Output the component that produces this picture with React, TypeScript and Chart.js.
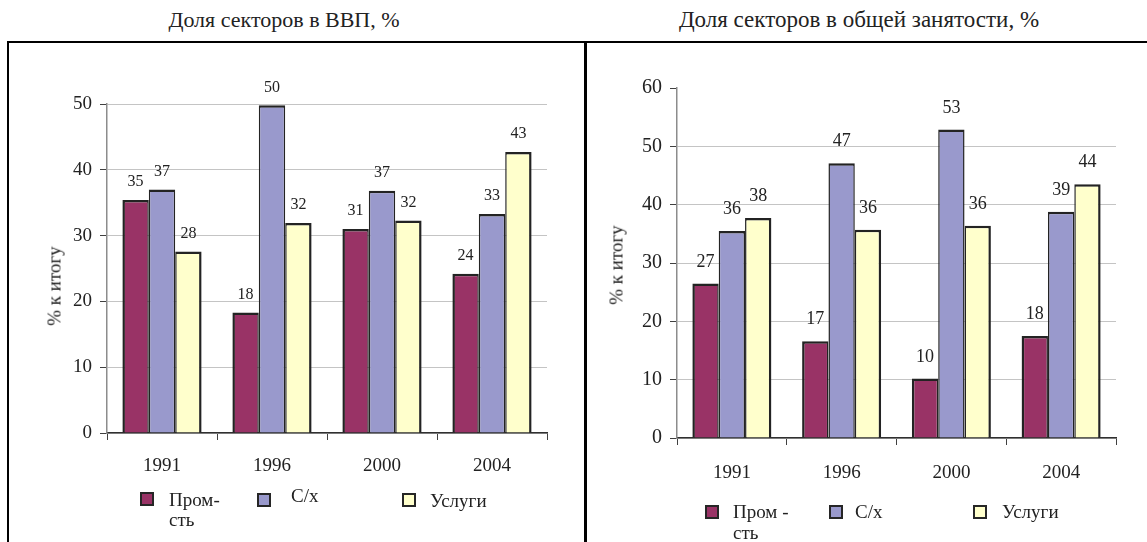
import React, { useEffect, useRef } from 'react';
import { Chart, registerables } from 'chart.js';

Chart.register(...registerables);

const FONT = '"Liberation Serif", "Times New Roman", serif';

// ---- data ----
const years = ['1991', '1996', '2000', '2004'];
const seriesNames = ['Пром-сть', 'С/х', 'Услуги'];
const seriesColors = ['#993366', '#9999CC', '#FFFFCC'];

const gdpIndustry = [35.4, 18.3, 31.0, 24.2];
const gdpAgriculture = [37.0, 49.8, 36.8, 33.3];
const gdpServices = [27.6, 31.9, 32.3, 42.7];

const empIndustry = [26.5, 16.6, 10.2, 17.5];
const empAgriculture = [35.5, 47.1, 52.9, 38.8];
const empServices = [37.7, 35.7, 36.4, 43.5];

const gdpTicks = [0, 10, 20, 30, 40, 50];
const empTicks = [0, 10, 20, 30, 40, 50, 60];

const gdpLegend = ['Пром-\nсть', 'С/х', 'Услуги'];
const empLegend = ['Пром -\nсть', 'С/х', 'Услуги'];

const gdpTitle = 'Доля секторов в ВВП, %';
const empTitle = 'Доля секторов в общей занятости, %';
const yTitle = '% к итогу';

const valueLabelsPlugin = {
  id: 'valueLabels',
  afterDatasetsDraw(chart: any, _args: any, opts: any) {
    const { ctx } = chart;
    ctx.save();
    ctx.font = `${opts.size}px ${FONT}`;
    ctx.fillStyle = '#222';
    ctx.textAlign = 'center';
    ctx.textBaseline = 'middle';
    chart.data.datasets.forEach((ds: any, i: number) => {
      const meta = chart.getDatasetMeta(i);
      meta.data.forEach((bar: any, j: number) => {
        const v = ds.data[j];
        ctx.fillText(String(Math.round(v)), bar.x, bar.y - opts.offset);
      });
    });
    ctx.restore();
  },
};

type PanelProps = {
  left: number;
  top: number;
  width: number;
  height: number;
  series: number[][];
  ticks: number[];
  yWidth: number;
  padRight: number;
  padTop: number;
  padBottom: number;
  xPad: number;
  yFont: number;
  labelFont: number;
  labelOffset: number;
  topGrid: boolean;
};

function BarPanel(p: PanelProps) {
  const ref = useRef<HTMLCanvasElement>(null);
  useEffect(() => {
    const yMax = p.ticks[p.ticks.length - 1];
    const n = p.series.length;
    const chart = new Chart(ref.current as HTMLCanvasElement, {
      type: 'bar',
      data: {
        labels: years,
        datasets: p.series.map((v, i) => ({
          label: seriesNames[i],
          data: v,
          backgroundColor: seriesColors[i],
          borderColor: '#232323',
          borderWidth: {
            top: 2.5,
            left: i === 0 ? 2.5 : 1.5,
            right: i === n - 1 ? 2.5 : 1.5,
            bottom: 0,
          },
          borderSkipped: 'bottom',
          categoryPercentage: 0.72,
          barPercentage: 1,
        })),
      },
      options: {
        responsive: false,
        animation: false,
        devicePixelRatio: 1,
        layout: { padding: { left: 0, right: p.padRight, top: p.padTop, bottom: p.padBottom } },
        plugins: {
          legend: { display: false },
          tooltip: { enabled: false },
          valueLabels: { size: p.labelFont, offset: p.labelOffset },
        } as any,
        scales: {
          x: {
            grid: {
              display: true,
              drawOnChartArea: false,
              drawTicks: true,
              tickLength: 7,
              tickColor: '#404040',
              offset: true,
            },
            border: { display: true, color: '#303030', width: 1.5 },
            ticks: {
              font: { family: FONT, size: 19 },
              color: '#222',
              padding: p.xPad,
              maxRotation: 0,
              autoSkip: false,
            },
            afterFit: (s: any) => {
              s.height = 60;
            },
          },
          y: {
            min: 0,
            max: yMax,
            ticks: {
              stepSize: 10,
              font: { family: FONT, size: p.yFont },
              color: '#222',
              padding: 8,
            },
            grid: {
              color: (ctx: any) =>
                ctx.tick && ctx.tick.value === yMax && !p.topGrid ? 'rgba(0,0,0,0)' : '#c4c4c4',
              tickColor: '#404040',
              tickLength: 7,
              lineWidth: 1,
            },
            border: { color: '#8c8c8c', width: 1.5 },
            afterFit: (s: any) => {
              s.width = p.yWidth;
            },
          },
        },
      } as any,
      plugins: [valueLabelsPlugin],
    });
    return () => chart.destroy();
  }, []);
  return (
    <canvas
      ref={ref}
      width={p.width}
      height={p.height}
      style={{ position: 'absolute', left: p.left, top: p.top, width: p.width, height: p.height }}
    />
  );
}

type LegendProps = {
  labels: string[];
  squares: [number, number][];
  texts: [number, number][];
  fontSize: number;
  lineHeight: number;
};

function Legend({ labels, squares, texts, fontSize, lineHeight }: LegendProps) {
  return (
    <>
      {labels.map((lab, i) => (
        <React.Fragment key={i}>
          <div
            style={{
              position: 'absolute',
              left: squares[i][0],
              top: squares[i][1],
              width: 14,
              height: 14,
              boxSizing: 'border-box',
              border: '2px solid #262626',
              background: seriesColors[i],
            }}
          />
          <div
            style={{
              position: 'absolute',
              left: texts[i][0],
              top: texts[i][1],
              fontFamily: FONT,
              fontSize,
              lineHeight: `${lineHeight}px`,
              color: '#222',
              whiteSpace: 'pre',
            }}
          >
            {lab}
          </div>
        </React.Fragment>
      ))}
    </>
  );
}

function YTitle({ cx, cy, size }: { cx: number; cy: number; size: number }) {
  return (
    <div
      style={{
        position: 'absolute',
        left: cx,
        top: cy,
        transform: 'translate(-50%, -50%) rotate(-90deg)',
        fontFamily: FONT,
        fontSize: size,
        lineHeight: 1,
        color: '#222',
        whiteSpace: 'nowrap',
      }}
    >
      {yTitle}
    </div>
  );
}

function Title({ cx, top, text, size }: { cx: number; top: number; text: string; size: number }) {
  return (
    <div
      style={{
        position: 'absolute',
        left: cx - 300,
        top,
        width: 600,
        textAlign: 'center',
        fontFamily: FONT,
        fontSize: size,
        lineHeight: `${size}px`,
        color: '#222',
        whiteSpace: 'nowrap',
      }}
    >
      {text}
    </div>
  );
}

export default function App() {
  return (
    <div
      style={{
        position: 'fixed',
        left: 0,
        top: 0,
        width: 1147,
        height: 542,
        overflow: 'hidden',
        background: '#fff',
      }}
    >
      <Title cx={284} top={9} text={gdpTitle} size={22} />
      <Title cx={859} top={8} text={empTitle} size={23} />
      <div
        style={{
          position: 'absolute',
          left: 7,
          top: 41,
          width: 580,
          height: 600,
          boxSizing: 'border-box',
          border: '2px solid #000',
        }}
      />
      <div
        style={{
          position: 'absolute',
          left: 584,
          top: 41,
          width: 700,
          height: 600,
          boxSizing: 'border-box',
          border: '2px solid #000',
        }}
      />
      <BarPanel
        left={10}
        top={44}
        width={574}
        height={498}
        series={[gdpIndustry, gdpAgriculture, gdpServices]}
        ticks={gdpTicks}
        yWidth={97}
        padRight={37}
        padTop={60}
        padBottom={49}
        xPad={15}
        yFont={19}
        labelFont={16}
        labelOffset={18}
        topGrid={true}
      />
      <BarPanel
        left={587}
        top={44}
        width={560}
        height={498}
        series={[empIndustry, empAgriculture, empServices]}
        ticks={empTicks}
        yWidth={90}
        padRight={31}
        padTop={44}
        padBottom={44}
        xPad={17}
        yFont={20}
        labelFont={18}
        labelOffset={21.5}
        topGrid={false}
      />
      <YTitle cx={54} cy={286} size={19} />
      <YTitle cx={616} cy={265} size={19} />
      <Legend
        labels={gdpLegend}
        squares={[
          [140, 492],
          [257, 493],
          [402, 493],
        ]}
        texts={[
          [169, 490],
          [291, 486],
          [430, 491],
        ]}
        fontSize={19}
        lineHeight={20}
      />
      <Legend
        labels={empLegend}
        squares={[
          [705, 505],
          [829, 505],
          [973, 505],
        ]}
        texts={[
          [733, 501],
          [855, 501],
          [1002, 501],
        ]}
        fontSize={19}
        lineHeight={21}
      />
    </div>
  );
}
